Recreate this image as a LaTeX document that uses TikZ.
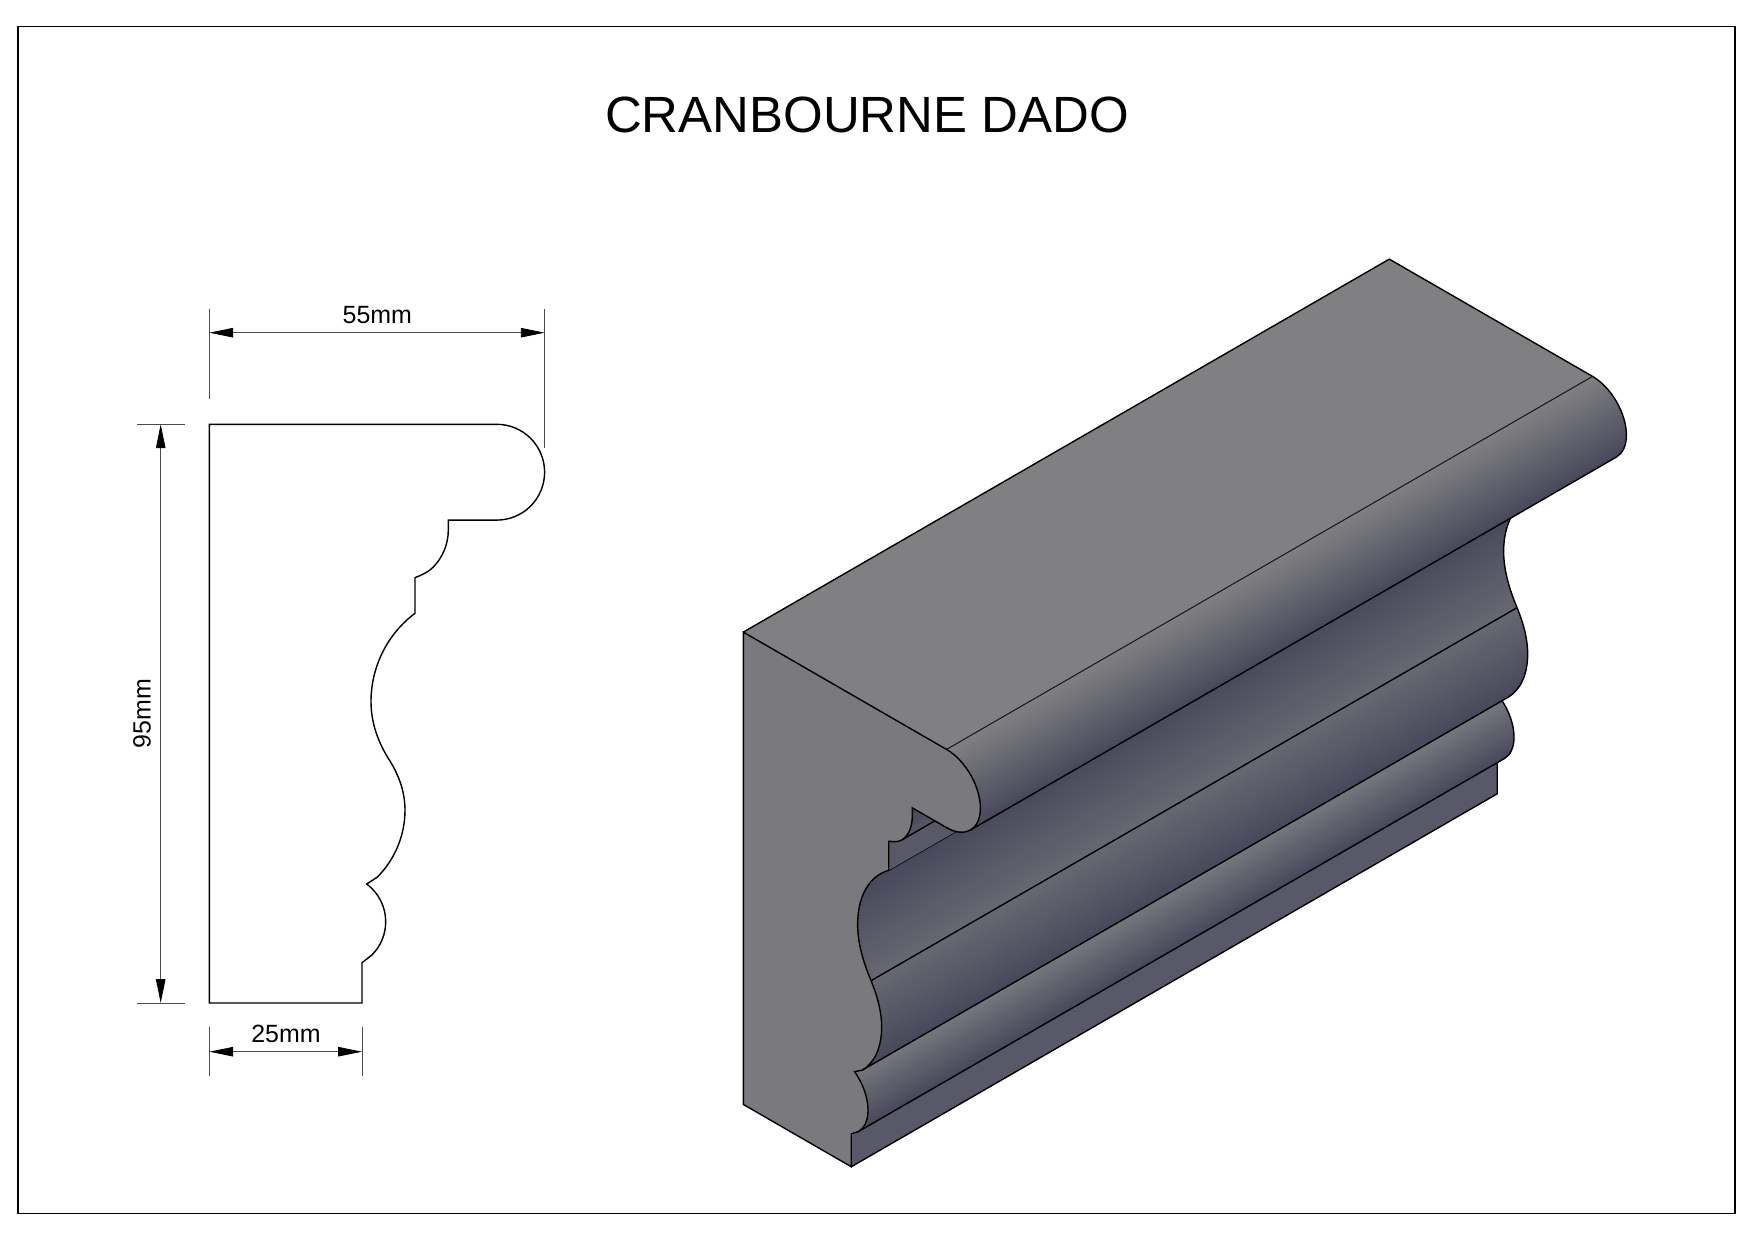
\documentclass[tikz,border=0pt]{standalone}
\usepackage{fontspec}
\setmainfont{Liberation Sans}
\usetikzlibrary{arrows.meta}

\definecolor{topgrey}{RGB}{128,128,130}
\definecolor{endgrey}{RGB}{122,122,126}
\definecolor{lightblue}{RGB}{120,120,126}
\definecolor{midblue}{RGB}{104,104,114}
\definecolor{darkblue}{RGB}{72,72,92}
\definecolor{flatblue}{RGB}{88,88,104}

\tikzset{
	outline/.style={line width=.8pt, black},
	crease/.style={line width=.6pt, black!90},
	dimline/.style={line width=.5pt, black!70},
	dimarrow/.style={dimline, {Stealth[inset=0pt,length=13.6pt,width=5.4pt,black]}-{Stealth[inset=0pt,length=13.6pt,width=5.4pt,black]}},
	dimtext/.style={font=\fontsize{14.2pt}{16pt}\selectfont, inner sep=0pt},
	front/.style={shift={(595.3,200.4)}, x={(.01414cm,-.00816cm)}, y={(0cm,-.01632cm)}},
	far/.style={shift={(1241.3,-172.6)}, x={(.01414cm,-.00816cm)}, y={(0cm,-.01632cm)}},
}

% whole section outline, #1 is p, a or b
\newcommand{\sectionpath}[1]{(#11) -- (#12) .. controls (#13) and (#14) .. (#15) .. controls (#16) and (#17) .. (#18) .. controls (#19) and (#110) .. (#111) -- (#112) -- (#113) .. controls (#114) and (#115) .. (#116) .. controls (#117) and (#118) .. (#119) -- (#120) .. controls (#121) and (#122) .. (#123) .. controls (#124) and (#125) .. (#126) .. controls (#127) and (#128) .. (#129) .. controls (#130) and (#131) .. (#132) -- (#133) .. controls (#134) and (#135) .. (#136) .. controls (#137) and (#138) .. (#139) -- (#140) -- (#141) -- (#142) -- cycle}
% shaded strip: clip path, first and last distance across the strip, colours
\newcommand{\strip}[4]{\begin{scope}\clip #1; \begin{scope}[transform canvas={rotate=30}]\shade[#4] (0,#2) rectangle (1500,#3);\end{scope}\end{scope}}

\begin{document}
\begin{tikzpicture}[x=.02cm, y=-.02cm]
	\useasboundingbox (0,0) rectangle (1754,1240);
	\draw[line width=1pt] (18.3,26.5) rectangle (1735,1213.5);
	\node[font=\fontsize{29pt}{32pt}\selectfont, inner sep=0pt] (title) at (867,115) {CRANBOURNE DADO};

	% section points
	\foreach \n/\x/\y in {1/209.3/424.3, 2/496.7/424.3, 3/523.2/424.3, 4/544.6/445.7, 5/544.6/472.2, 6/544.6/484.9, 7/539.6/497.1,
		8/530.6/506.1, 9/521.6/515.1, 10/509.4/520.1, 11/496.7/520.1, 12/448.3/520.1, 13/448.3/530, 14/448.3/544.1,
		15/442.7/557.6, 16/432.8/567.5, 17/427.8/572.5, 18/421.5/575, 19/415/577.7, 20/415/613.3, 21/387.2/634.1,
		22/371/667, 23/371/701.7, 24/371/723.1, 25/378.3/743.1, 26/390/761, 27/399.2/776, 28/405/792.4, 29/405/810,
		30/405/835.2, 31/395/859.4, 32/377.2/877.2, 33/366.7/884, 34/378.6/892.9, 35/385.7/906.8, 36/385.7/921.7,
		37/385.7/934.2, 38/380.8/946.1, 39/372/954.9, 40/362/962.7, 41/362/1003, 42/209.3/1003} {
		\coordinate (p\n) at (\x,\y);
		\path[front] (\x,\y) coordinate (a\n);
		\path[far] (\x,\y) coordinate (b\n);
	}

	% section with dimensions
	\draw[outline] \sectionpath{p};

	\coordinate (w1) at (209.3,332.7);
	\coordinate (w2) at (544.7,332.7);
	\draw[dimline] (209.3,309) -- (209.3,399.3);
	\draw[dimline] (544.7,309) -- (544.7,447.7);
	\draw[dimarrow] (w1) -- (w2);
	\node[dimtext] (widthtop) at (377.3,315) {55mm};

	\coordinate (h1) at (160.7,424.3);
	\coordinate (h2) at (160.7,1003);
	\draw[dimline] (136.5,424.3) -- (185,424.3);
	\draw[dimline] (136.5,1003) -- (185,1003);
	\draw[dimarrow] (h1) -- (h2);
	\node[dimtext, rotate=90] (height) at (142.1,713.7) {95mm};

	\coordinate (t1) at (209.3,1051.7);
	\coordinate (t2) at (362,1051.7);
	\draw[dimline] (209.3,1026.7) -- (209.3,1075.7);
	\draw[dimline] (362,1026.7) -- (362,1075.7);
	\draw[dimarrow] (t1) -- (t2);
	\node[dimtext] (widthfoot) at (286,1034) {25mm};

	% length of the moulding, lowest strip first
	\fill[flatblue] (a40) -- (a41) -- (b41) -- (b40) -- cycle;
	\draw[outline] (a40) -- (b40) -- (b41) -- (a41);

	\strip{(a33) .. controls (a34) and (a35) .. (a36) .. controls (a37) and (a38) .. (a39) -- (b39) .. controls (b38) and (b37) .. (b36) .. controls (b35) and (b34) .. (b33) -- cycle}{1355}{1409}{top color=lightblue, bottom color=darkblue}
	\draw[outline] (a33) -- (b33) .. controls (b34) and (b35) .. (b36) .. controls (b37) and (b38) .. (b39) -- (a39);

	\strip{(a26) .. controls (a27) and (a28) .. (a29) .. controls (a30) and (a31) .. (a32) -- (b32) .. controls (b31) and (b30) .. (b29) .. controls (b28) and (b27) .. (b26) -- cycle}{1284.5}{1357.6}{top color=midblue, bottom color=darkblue}
	\draw[outline] (b26) .. controls (b27) and (b28) .. (b29) .. controls (b30) and (b31) .. (b32) -- (a32);

	\strip{(a20) .. controls (a21) and (a22) .. (a23) .. controls (a24) and (a25) .. (a26) -- (b26) .. controls (b25) and (b24) .. (b23) .. controls (b22) and (b21) .. (b20) -- cycle}{1197}{1284.5}{top color=darkblue, middle color=midblue, bottom color=midblue}
	\draw[outline] (a20) -- (b20) .. controls (b21) and (b22) .. (b23) .. controls (b24) and (b25) .. (b26);
	\draw[outline] (a26) -- (b26);

	\fill[flatblue] (a19) -- (a20) -- (b20) -- (b19) -- cycle;
	\fill[darkblue] (a12) -- (a13) -- (b13) -- (b12) -- cycle;
	\strip{(a13) .. controls (a14) and (a15) .. (a16) -- (b16) .. controls (b15) and (b14) .. (b13) -- cycle}{1162}{1178}{top color=darkblue, bottom color=flatblue}
	\draw[outline] (a16) -- (b16);

	\strip{(a2) .. controls (a3) and (a4) .. (a5) .. controls (a6) and (a7) .. (a8) -- (b8) .. controls (b7) and (b6) .. (b5) .. controls (b4) and (b3) .. (b2) -- cycle}{1122}{1204}{top color=topgrey, middle color=lightblue, bottom color=darkblue}
	\draw[outline] (b2) .. controls (b3) and (b4) .. (b5) .. controls (b6) and (b7) .. (b8) -- (a8);

	\fill[topgrey] (a1) -- (a2) -- (b2) -- (b1) -- cycle;
	\draw[outline] (a1) -- (b1) -- (b2);
	\draw[crease] (a2) -- (b2);

	% end face
	\filldraw[outline, fill=endgrey] \sectionpath{a};
\end{tikzpicture}
\end{document}
